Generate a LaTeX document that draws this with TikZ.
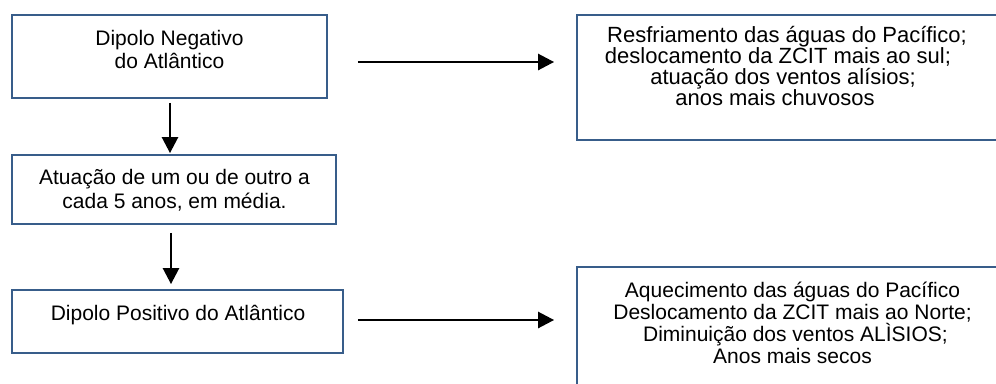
\documentclass[tikz,border=0pt]{standalone}
\usepackage{fontspec}
\setmainfont{Liberation Sans}
\usetikzlibrary{arrows.meta}
\definecolor{boxblue}{RGB}{56,93,138}
\tikzset{
  x=1pt,y=-1pt,
  boxnode/.style={draw=boxblue, line width=1.8pt, fill=white, inner sep=0pt},
  lefttext/.style={align=center, inner sep=0pt, font=\fontsize{21}{23.5}\selectfont},
  righttext/.style={align=center, inner sep=0pt, font=\fontsize{21}{22}\selectfont},
  arr/.style={line width=2.6pt, -{Triangle[length=16pt,width=16pt]}}
}
\begin{document}
\begin{tikzpicture}
\useasboundingbox (0,0) rectangle (996,383);
% boxes
\node[boxnode, minimum width=315pt, minimum height=83pt] (b1) at (169.5,56.5) {};
\node[boxnode, minimum width=324pt, minimum height=69pt] (b2) at (174,189.5) {};
\node[boxnode, minimum width=331pt, minimum height=63pt] (b3) at (177.5,321.5) {};
\node[boxnode, minimum width=421pt, minimum height=125pt] (b4) at (787.5,77.5) {};
\node[boxnode, minimum width=431pt, minimum height=121pt] (b5) at (792.5,327.5) {};
% texts
\node[lefttext] (t1) at (169.5,49.5) {Dipolo Negativo\\do Atlântico};
\node[lefttext] (t2) at (174.5,190) {Atuação de um ou de outro a\\cada 5 anos, em média.};
\node[lefttext, anchor=base] (t3) at (178,320) {Dipolo Positivo do Atlântico};
\node[righttext, font=\fontsize{22}{20.7}\selectfont] (t4) at (778,66) {\hspace*{18pt}Resfriamento das águas do Pacífico;\\deslocamento da ZCIT mais ao sul;\hspace*{16pt}\\\hspace*{10pt}atuação dos ventos alísios;\\anos mais chuvosos\hspace*{6pt}};
\node[righttext] (t5) at (792.5,322.5) {Aquecimento das águas do Pacífico\\Deslocamento da ZCIT mais ao Norte;\\\ Diminuição dos ventos ALÌSIOS;\\Anos mais secos};
% arrows
\draw[arr, shorten <=4pt, shorten >=1pt] ([xshift=0.5pt]b1.south) -- ([xshift=0.5pt]b1.south |- b2.north);
\draw[arr, shorten <=8pt, shorten >=5pt] ([xshift=-3pt]b2.south) -- ([xshift=-3pt]b2.south |- b3.north);
\draw[arr, shorten <=30pt, shorten >=22pt] ([yshift=-5.5pt]b1.east) -- ([yshift=-5.5pt]b1.east -| b4.west);
\draw[arr, shorten <=14pt, shorten >=22pt] ([yshift=1.5pt]b3.east) -- ([yshift=1.5pt]b3.east -| b5.west);
\end{tikzpicture}
\end{document}
